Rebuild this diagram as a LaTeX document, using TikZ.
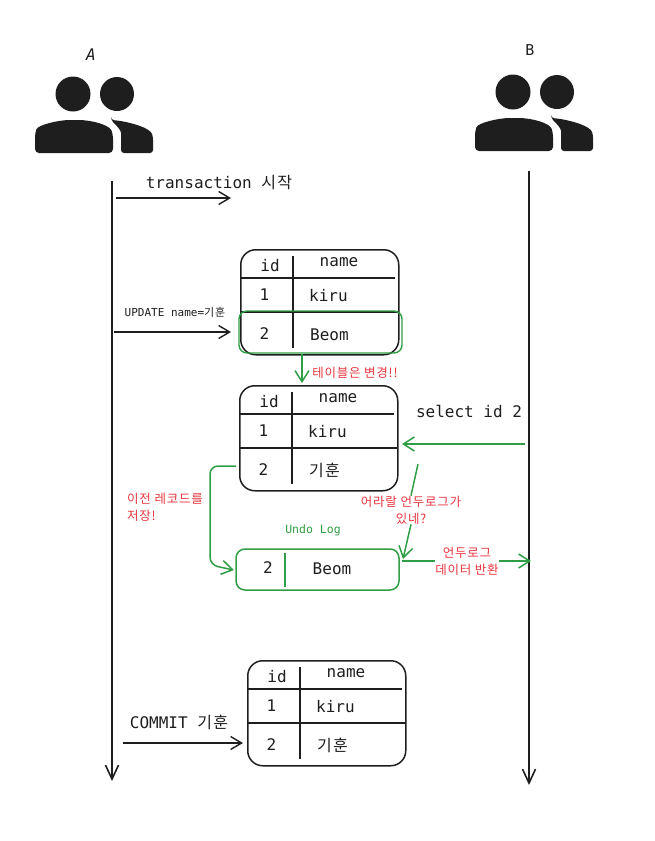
\documentclass[tikz,border=0pt]{standalone}
\usepackage{fontspec}
\setmonofont{DejaVu Sans Mono}
\newfontfamily\krfont{Noto Sans CJK KR}
\usetikzlibrary{arrows.meta}
\definecolor{inkblack}{HTML}{1E1E1E}
\definecolor{inkgreen}{HTML}{2F9E44}
\definecolor{inkred}{HTML}{E8353F}
\newcommand{\kr}[1]{{\krfont\addfontfeature{LetterSpace=8}#1}}
\tikzset{
  every node/.style={inner sep=0pt,text=inkblack},
  bigtext/.style={font=\ttfamily\fontsize{16}{18}\selectfont},
  smalltext/.style={font=\ttfamily\fontsize{11}{12}\selectfont},
  redtext/.style={font=\krfont\addfontfeature{LetterSpace=6}\fontsize{12.5}{17}\selectfont,text=inkred},
  tablebox/.style={draw=inkblack,line width=1.5pt,rounded corners=15pt,minimum width=158pt,minimum height=105pt},
  rule/.style={draw=inkblack,line width=1.6pt},
  flow/.style={draw=inkblack,line width=1.4pt,-{Straight Barb[length=11pt,width=13pt]}},
  greenflow/.style={draw=inkgreen,line width=1.5pt,-{Straight Barb[length=11pt,width=14pt]}},
  lifeline/.style={draw=inkblack,line width=1.6pt,-{Straight Barb[length=14pt,width=13pt]}},
  usericon/.pic={
    \fill[inkblack] (73,94) circle (17.5);
    \fill[inkblack] (117,94) circle (17);
    \fill[inkblack,rounded corners=4pt] (35,153) -- (35,133) .. controls (38,125) and (58,120) .. (74,120) .. controls (92,120) and (110,125) .. (113,135) -- (113,153) -- cycle;
    \fill[inkblack,rounded corners=3pt] (111,120) .. controls (125,121) and (150,127) .. (153,137) -- (153,153) -- (121,153) -- (121,136) .. controls (121,130) and (116,125) .. (111,120) -- cycle;
  }
}
% one table: name, x, y, value of row 2
\newcommand{\dbtable}[4]{
  \begin{scope}[shift={(#2,#3)}]
    \node[tablebox,anchor=north west] (#1) at (0,0) {};
    \coordinate (#1HeadL) at (0,29);
    \coordinate (#1HeadR) at (155,29);
    \coordinate (#1RowL) at (0,63);
    \coordinate (#1RowR) at (158,63);
    \coordinate (#1ColT) at (53,7);
    \coordinate (#1ColB) at (53,99);
    \draw[rule] (#1HeadL) -- (#1HeadR);
    \draw[rule] (#1RowL) -- (#1RowR);
    \draw[rule] (#1ColT) -- (#1ColB);
    \node[bigtext] (#1Id) at (30,17) {id};
    \node[bigtext] (#1Name) at (99,13) {name};
    \node[bigtext] (#1One) at (24.5,46) {1};
    \node[bigtext,anchor=west] (#1Kiru) at (69,46.5) {kiru};
    \node[bigtext] (#1Two) at (24.5,85) {2};
    \node[bigtext,anchor=west] (#1Val) at (70,85.5) {#4};
  \end{scope}
}
\begin{document}
\begin{tikzpicture}[x=1pt,y=-1pt]
\useasboundingbox (0,0) rectangle (654,841);
% users
\pic at (0,0) {usericon};
\pic at (440,-2) {usericon};
\node[font=\ttfamily\itshape\fontsize{16}{18}\selectfont] (userA) at (91,55) {A};
\node[font=\ttfamily\fontsize{15}{18}\selectfont] (userB) at (530,50) {B};
% life lines
\coordinate (lineATop) at (112,181);
\coordinate (lineAEnd) at (112,781);
\coordinate (lineBTop) at (529,171);
\coordinate (lineBEnd) at (529,785);
\draw[lifeline] (lineATop) -- (lineAEnd);
\draw[lifeline] (lineBTop) -- (lineBEnd);
% begin
\coordinate (startFrom) at (116,198);
\coordinate (startTo) at (231,198);
\draw[flow] (startFrom) -- (startTo);
\node[bigtext] (startText) at (219,183) {transaction \kr{시작}};
% update
\dbtable{tableOld}{240}{249}{Beom}
\coordinate (updateFrom) at (114,332);
\coordinate (updateTo) at (231,332);
\draw[flow] (updateFrom) -- (updateTo);
\node[smalltext] (updateText) at (175,312) {UPDATE name=\kr{기훈}};
\node[draw=inkgreen,line width=1.4pt,rounded corners=8pt,minimum width=163pt,minimum height=42pt] (changedRow) at (320.5,332) {};
\coordinate (changeFrom) at (302,354);
\coordinate (changeTo) at (302,383);
\draw[greenflow] (changeFrom) -- (changeTo);
\node[redtext] (changeText) at (355,373) {테이블은 변경!!};
% table after update
\dbtable{tableNew}{239}{385}{\kr{기훈}}
\node[bigtext] (selectText) at (469,411) {select id 2};
\coordinate (selectFrom) at (525,444);
\coordinate (selectTo) at (402,444);
\draw[greenflow] (selectFrom) -- (selectTo);
% undo log
\node[draw=inkgreen,line width=1.5pt,rounded corners=9pt,minimum width=163pt,minimum height=41pt] (undoBox) at (317.5,569.5) {};
\coordinate (undoColT) at (285,553);
\coordinate (undoColB) at (285,587);
\draw[draw=inkgreen,line width=1.5pt] (undoColT) -- (undoColB);
\node[bigtext] (undoTwo) at (268,568) {2};
\node[bigtext] (undoVal) at (332,569) {Beom};
\node[font=\ttfamily\fontsize{11.5}{14}\selectfont,text=inkgreen] (undoText) at (313,530) {Undo Log};
% save old record
\coordinate (saveFrom) at (236,466);
\coordinate (saveCorner) at (210,466);
\coordinate (saveDown) at (210,565);
\coordinate (saveTo) at (234,570);
\draw[greenflow,rounded corners=8pt] (saveFrom) -- (saveCorner) -- (saveDown) -- (saveTo);
\node[redtext,align=left,anchor=west] (saveText) at (127,507.5) {이전 레코드를\\저장!};
% read from undo
\node[redtext,align=center] (askText) at (411,510) {어라랄 언두로그가\\있네?};
\coordinate (askFrom) at (418,464);
\coordinate (askTo) at (403,559);
\draw[draw=inkgreen,line width=1.5pt] (askFrom) -- (askText.north);
\draw[greenflow] (askText.south) -- (askTo);
\node[redtext,align=center] (returnText) at (467,561) {언두로그\\데이터 반환};
\coordinate (returnFrom) at (402,561);
\coordinate (returnTo) at (531,561);
\draw[draw=inkgreen,line width=1.5pt] (returnFrom) -- (returnText.west);
\draw[greenflow] (returnText.east) -- (returnTo);
% commit
\dbtable{tableDone}{247}{660}{\kr{기훈}}
\coordinate (commitFrom) at (123,743);
\coordinate (commitTo) at (243,743);
\draw[flow] (commitFrom) -- (commitTo);
\node[bigtext] (commitText) at (179,722) {COMMIT \kr{기훈}};
\end{tikzpicture}
\end{document}
